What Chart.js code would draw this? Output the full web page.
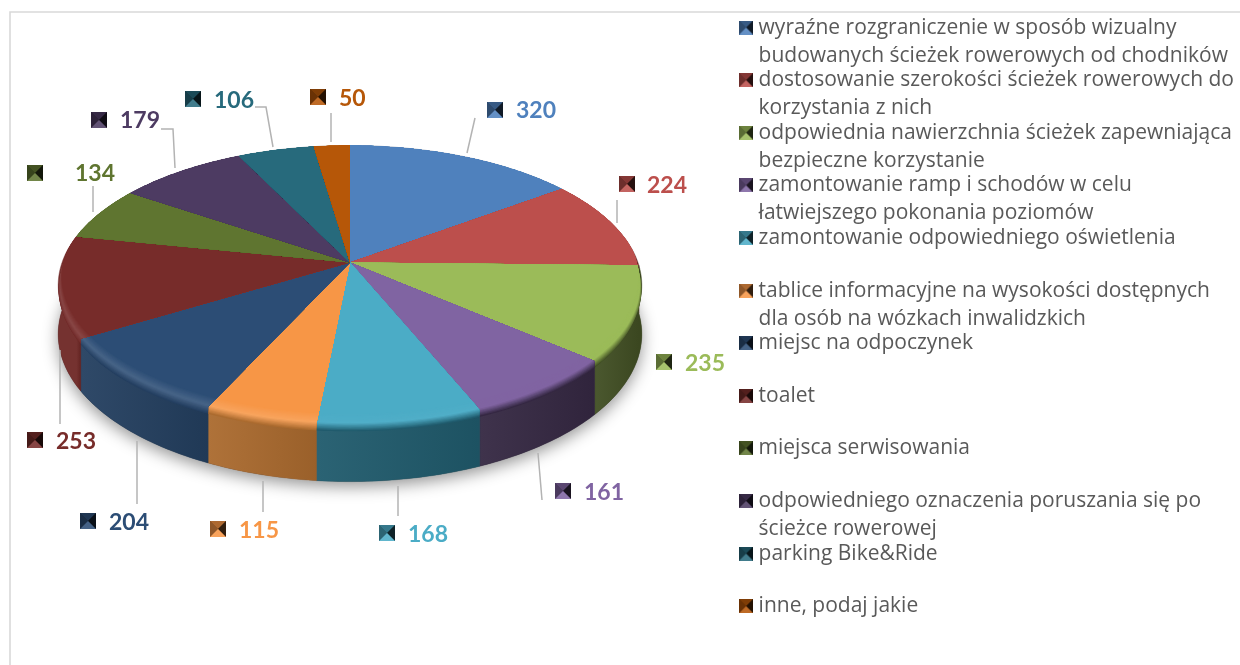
<!DOCTYPE html>
<html><head><meta charset="utf-8">
<style>html,body{margin:0;padding:0;background:#fff}canvas{display:block}</style>
<script src="https://cdn.jsdelivr.net/npm/chart.js@4/dist/chart.umd.min.js"></script>
</head><body>
<div style="width:1240px;height:665px;position:relative"><canvas id="c" width="1240" height="665"></canvas></div>
<script>
const legendLines=[
 ['wyraźne rozgraniczenie w sposób wizualny','budowanych ścieżek rowerowych od chodników'],
 ['dostosowanie szerokości ścieżek rowerowych do','korzystania z nich'],
 ['odpowiednia nawierzchnia ścieżek zapewniająca','bezpieczne korzystanie'],
 ['zamontowanie ramp i schodów w celu','łatwiejszego pokonania poziomów'],
 ['zamontowanie odpowiedniego oświetlenia',''],
 ['tablice informacyjne na wysokości dostępnych','dla osób na wózkach inwalidzkich'],
 ['miejsc na odpoczynek',''],
 ['toalet',''],
 ['miejsca serwisowania',''],
 ['odpowiedniego oznaczenia poruszania się po','ścieżce rowerowej'],
 ['parking Bike&Ride',''],
 ['inne, podaj jakie','']
];
const values=[320,224,235,161,168,115,204,253,134,179,106,50];
const topColors=['#4f81bd','#bc4f4c','#9bbb59','#8064a2','#4bacc6','#f79646','#2c4d75','#772c2a','#5f7530','#4d3b62','#276a7c','#b65708'];
const wallColors=['#2f4d71','#71302e','#414f24','#352843','#205b6d','#ab6b2f','#243f60','#6e2725','#39461d','#2e233b','#173f4a','#6d3405'];
// label placement: [marker x, marker y, text x, text y]
const labelSpots=[[495,110,516,111],[627,184,647,186],[664,362,685,364],[563,491,584,493],[387,533,408,535],[218,529,239,531],[88,521,109,523],[35,440,56,442],[35,173,75,174],[99,120,120,121],[193,99,214,101],[318,97,339,99]];
const leaderLines=[[[467,153],[475,118]],[[617,223],[617,200]],[],[[538,453],[542,500]],[[398,486],[398,516]],[[263,481],[263,512]],[[137,441],[137,504]],[[60,350],[60,424]],[[93,186],[93,212]],[[161,129],[173,129],[175,168]],[[255,107],[266,107],[273,147]],[[331,113],[331,142]]];

const CX=350,CY=262.5,R=288,RK=135.8,P=0.161,D=48;
function proj(th,r=1,depth=0,shift=0){
  const u=r*Math.sin(th),v=-r*Math.cos(th),w=1-P*v;
  return [CX+R*u/w,CY+RK*v/w+D*depth/w-shift];
}
function hex(c){return [1,3,5].map(i=>parseInt(c.substr(i,2),16));}
function mix(a,b,t){const x=hex(a),y=hex(b);return '#'+x.map((q,i)=>Math.round(q+(y[i]-q)*t).toString(16).padStart(2,'0')).join('');}
function ring(ctx,fn){ctx.beginPath();for(let i=0;i<=360;i++){const p=fn(i*Math.PI/180);i?ctx.lineTo(p[0],p[1]):ctx.moveTo(p[0],p[1]);}ctx.closePath();}
function marker(c,s){
  const m=document.createElement('canvas');m.width=m.height=s;const x=m.getContext('2d');
  x.fillStyle=mix(c,'#000000',.5);x.fillRect(0,0,s,s);
  const tri=(a,b,col)=>{x.fillStyle=col;x.beginPath();x.moveTo(a[0],a[1]);x.lineTo(b[0],b[1]);x.lineTo(s/2,s/2);x.closePath();x.fill();};
  tri([0,0],[s,0],mix(c,'#000000',.3));
  tri([0,0],[0,s],mix(c,'#000000',.42));
  tri([s,0],[s,s],mix(c,'#000000',.8));
  tri([0,s],[s,s],mix(c,'#ffffff',.12));
  return m;
}
const legendMarks=topColors.map(c=>marker(c,14));
const labelMarks=topColors.map(c=>marker(c,16));

const pie3d={id:'pie3d',
 afterLayout(chart){const lg=chart.legend;if(lg)lg.draw=function(){this._draw();};},
 beforeDraw(chart){const c=chart.ctx;c.save();c.strokeStyle='#d9d9d9';c.lineWidth=1.6;c.beginPath();c.moveTo(1240,12);c.lineTo(10,12);c.lineTo(10,665);c.stroke();c.restore();},
 beforeDatasetDraw(chart,args){
  const ctx=chart.ctx,arcs=chart.getDatasetMeta(args.index).data;
  const A=a=>a+Math.PI/2;
  ctx.save();
  // ground shadow
  ctx.save();ctx.shadowColor='rgba(0,0,0,.42)';ctx.shadowBlur=16;ctx.shadowOffsetY=5;ctx.fillStyle='#444444';
  ring(ctx,t=>proj(t,1,1));ctx.fill();ctx.restore();
  // walls
  arcs.forEach((el,i)=>{
    const s=A(el.startAngle),e=A(el.endAngle),n=Math.max(3,Math.ceil((e-s)*60));
    ctx.beginPath();
    for(let k=0;k<=n;k++){const p=proj(s+(e-s)*k/n);k?ctx.lineTo(p[0],p[1]):ctx.moveTo(p[0],p[1]);}
    for(let k=n;k>=0;k--){const p=proj(s+(e-s)*k/n,1,1);ctx.lineTo(p[0],p[1]);}
    ctx.closePath();
    const a=proj(s),b=proj(e),g=ctx.createLinearGradient(Math.min(a[0],b[0]),0,Math.max(a[0],b[0])+.1,0);
    g.addColorStop(0,mix(wallColors[i],'#ffffff',.05));g.addColorStop(1,mix(wallColors[i],'#000000',.1));
    ctx.fillStyle=g;ctx.fill();ctx.strokeStyle=wallColors[i];ctx.lineWidth=.4;ctx.stroke();
  });
  // top faces with a soft bevel that straddles the rim
  const band=15,below=7;
  arcs.forEach((el,i)=>{
    const s=A(el.startAngle),e=A(el.endAngle),n=Math.max(3,Math.ceil((e-s)*60)),mid=(s+e)/2;
    const lit=Math.min(1,Math.max(0,-Math.sin(mid)*2+.5))*(Math.cos(mid)<.3?1:0);
    const hi=mix(topColors[i],'#ffffff',.13*lit);
    ctx.save();
    ctx.beginPath();ctx.moveTo(CX,CY);
    let p=proj(s);ctx.lineTo(p[0],p[1]);
    for(let k=0;k<=n;k++){const th=s+(e-s)*k/n;p=proj(th,1,.2*Math.max(0,-Math.cos(th)));ctx.lineTo(p[0],p[1]);}
    p=proj(e);ctx.lineTo(p[0],p[1]);
    ctx.closePath();ctx.clip();
    for(let j=0;j<=band;j++){
      const t=j/band;
      ctx.fillStyle=t<.45?mix(wallColors[i],hi,t/.45):mix(hi,topColors[i],(t-.45)/.55);
      ring(ctx,th=>proj(th,1-.012*t,0,band*t-below));ctx.fill();
    }
    ctx.restore();
  });
  // leader lines
  ctx.strokeStyle='#b3b3b3';ctx.lineWidth=1.5;
  leaderLines.forEach(l=>{if(!l.length)return;ctx.beginPath();l.forEach((q,k)=>k?ctx.lineTo(q[0],q[1]):ctx.moveTo(q[0],q[1]));ctx.stroke();});
  // value labels
  ctx.font='bold 23px Lato';ctx.textBaseline='middle';ctx.textAlign='left';
  values.forEach((v,i)=>{
    const q=labelSpots[i];
    ctx.drawImage(labelMarks[i],q[0]-8,q[1]-8);
    ctx.fillStyle=topColors[i];ctx.fillText(String(v),q[2],q[3]);
  });
  ctx.restore();
  return false;
 }
};
new Chart(document.getElementById('c'),{
 type:'pie',
 data:{labels:legendLines.map(l=>l.join(' ').trim()),datasets:[{data:values,backgroundColor:topColors,borderWidth:0}]},
 plugins:[pie3d],
 options:{responsive:false,animation:false,
  layout:{padding:{top:20.5,right:-4,left:0,bottom:0}},
  plugins:{tooltip:{enabled:false},title:{display:false},
   legend:{display:true,position:'right',align:'start',
    labels:{usePointStyle:true,boxWidth:4,boxHeight:14,padding:-3.4,color:'#595959',
     font:{family:'"Open Sans"',size:21,lineHeight:1.3333},
     generateLabels(){return legendLines.map((l,i)=>({text:l,fontColor:'#595959',fillStyle:topColors[i],strokeStyle:topColors[i],lineWidth:0,pointStyle:legendMarks[i],hidden:false,index:i}));}
    }}}
 }
});
</script>
</body></html>
